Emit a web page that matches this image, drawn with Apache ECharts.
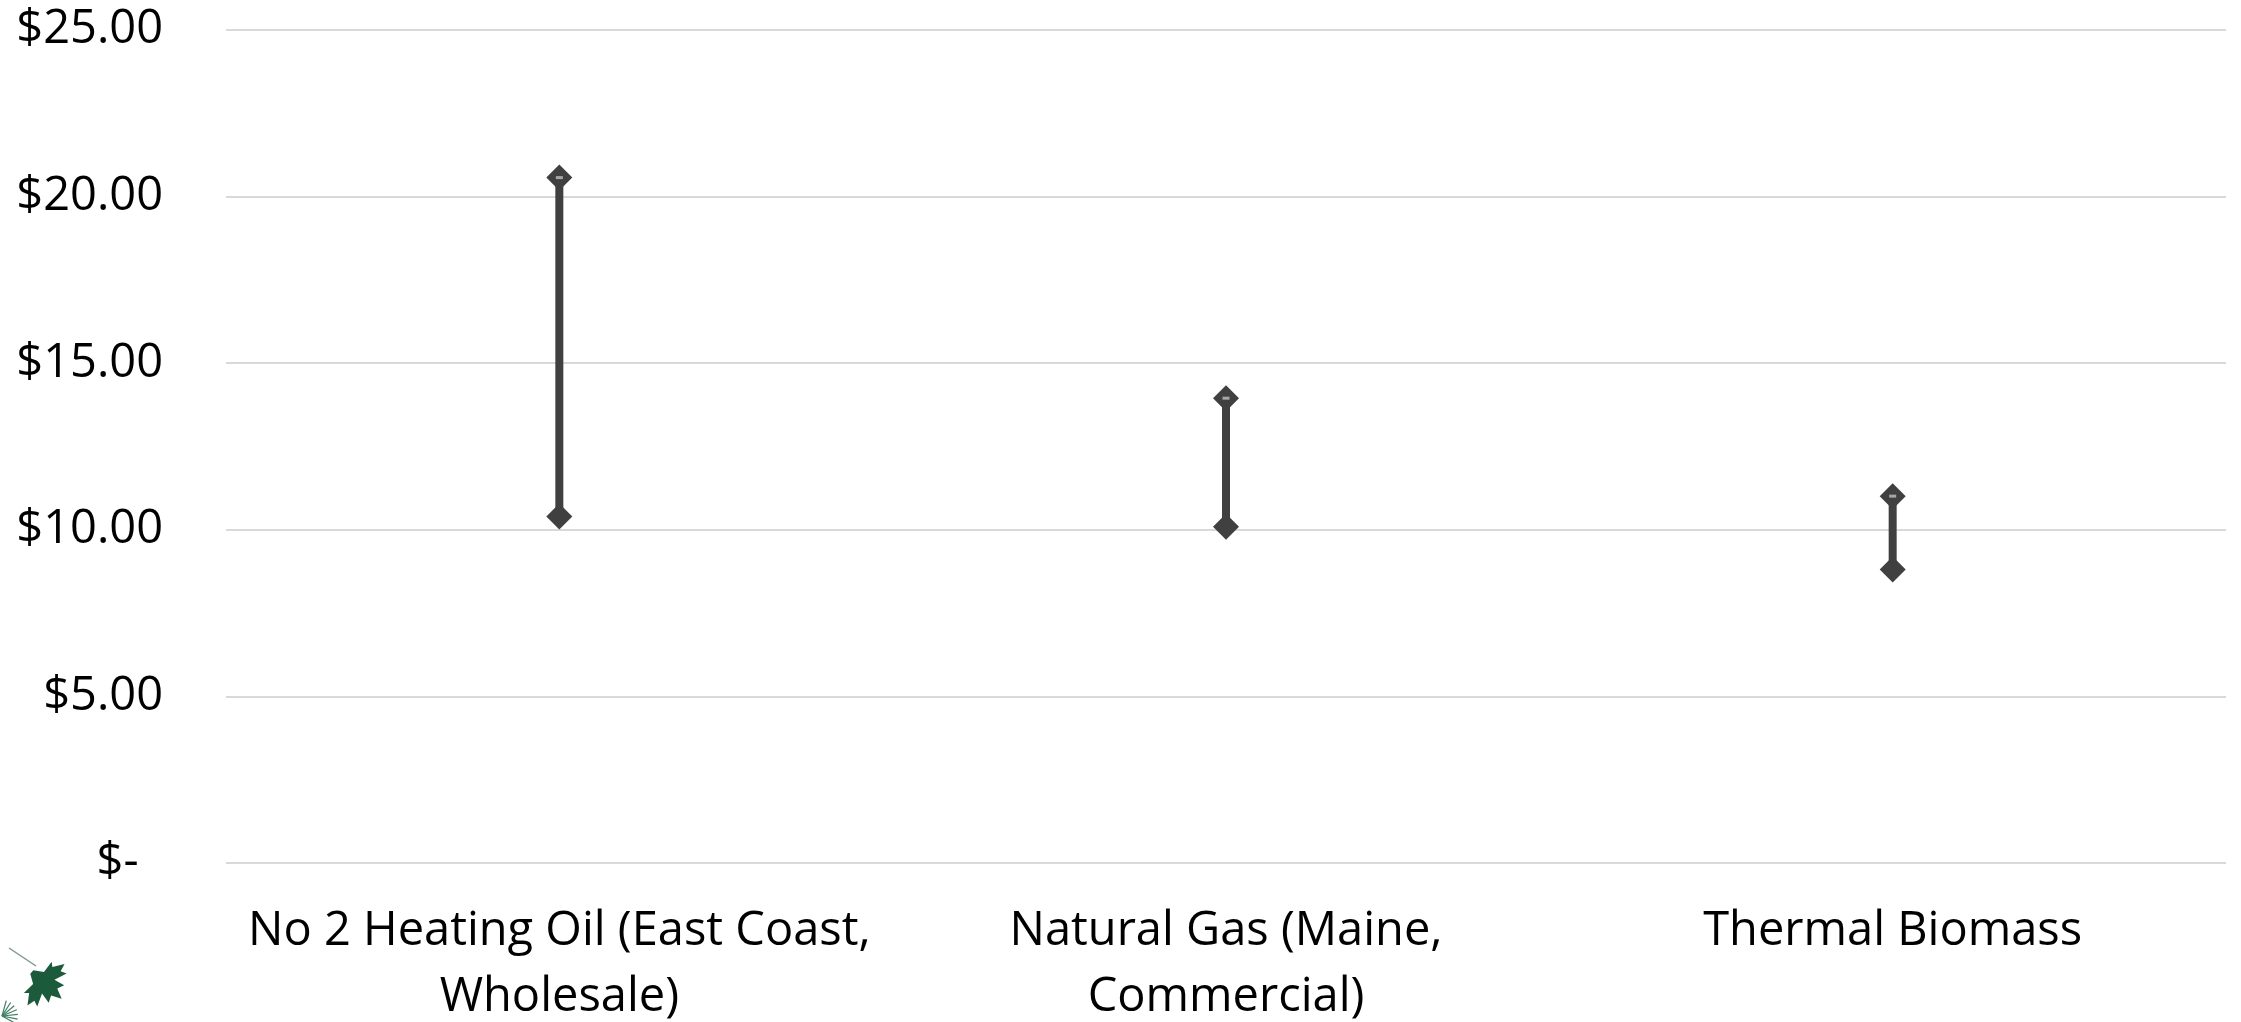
<!DOCTYPE html>
<html>
<head>
<meta charset="utf-8">
<script src="https://cdn.jsdelivr.net/npm/echarts@6/dist/echarts.min.js"></script>
<style>
html, body { margin: 0; padding: 0; background: #fff; }
#chart { width: 2241px; height: 1022px; }
</style>
</head>
<body>
<div id="chart"></div>
<script>
// price range per fuel ($ per MMBtu)
var categories = [
    'No 2 Heating Oil (East Coast,\nWholesale)',
    'Natural Gas (Maine,\nCommercial)',
    'Thermal Biomass'
];
var highValues = [20.57, 13.95, 11.01];
var lowValues = [10.40, 10.09, 8.81];
var yTickLabels = ['$-  ', '$5.00', '$10.00', '$15.00', '$20.00', '$25.00'];

var chart = echarts.init(document.getElementById('chart'));

var rangeData = categories.map(function (c, i) {
    return [i, lowValues[i], highValues[i]];
});

// little maple leaf logo in the corner
var leafPoints = [[0, -50], [8, -30], [20, -36], [16, -14], [38, -24], [34, -12], [48, -8], [30, 6],
    [36, 14], [14, 12], [4, 30], [-4, 30], [-14, 12], [-36, 14], [-30, 6], [-48, -8], [-34, -12],
    [-38, -24], [-16, -14], [-20, -36], [-8, -30]];

var option = {
    animation: false,
    grid: {
        left: 226,
        right: 15,
        top: 30,
        bottom: 159,
        outerBoundsMode: 'none'
    },
    xAxis: {
        type: 'category',
        data: categories,
        axisLine: { show: false },
        axisTick: { show: false },
        axisLabel: {
            interval: 0,
            margin: 36,
            color: '#000',
            fontFamily: 'Open Sans',
            fontSize: 47,
            lineHeight: 66
        }
    },
    yAxis: {
        type: 'value',
        min: 0,
        max: 25,
        interval: 5,
        axisLine: { show: false },
        axisTick: { show: false },
        axisLabel: {
            margin: 63,
            color: '#000',
            fontFamily: 'Open Sans',
            fontSize: 47,
            formatter: function (v) {
                return yTickLabels[Math.round(v / 5)];
            }
        },
        splitLine: {
            lineStyle: { color: '#d9d9d9', width: 2 }
        }
    },
    graphic: [
        {
            type: 'line',
            shape: { x1: 9, y1: 948, x2: 36, y2: 966 },
            style: { stroke: '#7d9a88', lineWidth: 1.5 }
        },
        {
            type: 'polygon',
            shape: { points: leafPoints },
            x: 43, y: 982,
            scaleX: 0.58, scaleY: 0.5,
            rotation: -2.3,
            style: { fill: '#1c5a3c' }
        },
        {
            type: 'group',
            children: [0, 1, 2, 3, 4, 5, 6].map(function (k) {
                var a = -1.3 + k * 0.3;
                return {
                    type: 'line',
                    shape: { x1: 2, y1: 1016, x2: 2 + 16 * Math.cos(a), y2: 1016 + 16 * Math.sin(a) },
                    style: { stroke: '#3f7f66', lineWidth: 1.2 }
                };
            })
        }
    ],
    series: [
        {
            // high-low line
            type: 'custom',
            data: rangeData,
            renderItem: function (params, api) {
                var p1 = api.coord([api.value(0), api.value(1)]);
                var p2 = api.coord([api.value(0), api.value(2)]);
                return {
                    type: 'line',
                    shape: { x1: p1[0], y1: p1[1], x2: p2[0], y2: p2[1] },
                    style: { stroke: '#404040', lineWidth: 8 }
                };
            },
            z: 2
        },
        {
            name: 'High',
            type: 'scatter',
            data: highValues,
            symbol: 'diamond',
            symbolSize: 26,
            itemStyle: { color: '#404040', opacity: 1 },
            z: 3
        },
        {
            name: 'Low',
            type: 'scatter',
            data: lowValues,
            symbol: 'diamond',
            symbolSize: 26,
            itemStyle: { color: '#404040', opacity: 1 },
            z: 3
        },
        {
            // small close tick inside the top marker
            type: 'scatter',
            data: highValues,
            symbol: 'rect',
            symbolSize: [7, 3],
            itemStyle: { color: '#a6a6a6', opacity: 1 },
            z: 4
        }
    ]
};

chart.setOption(option);
</script>
</body>
</html>
